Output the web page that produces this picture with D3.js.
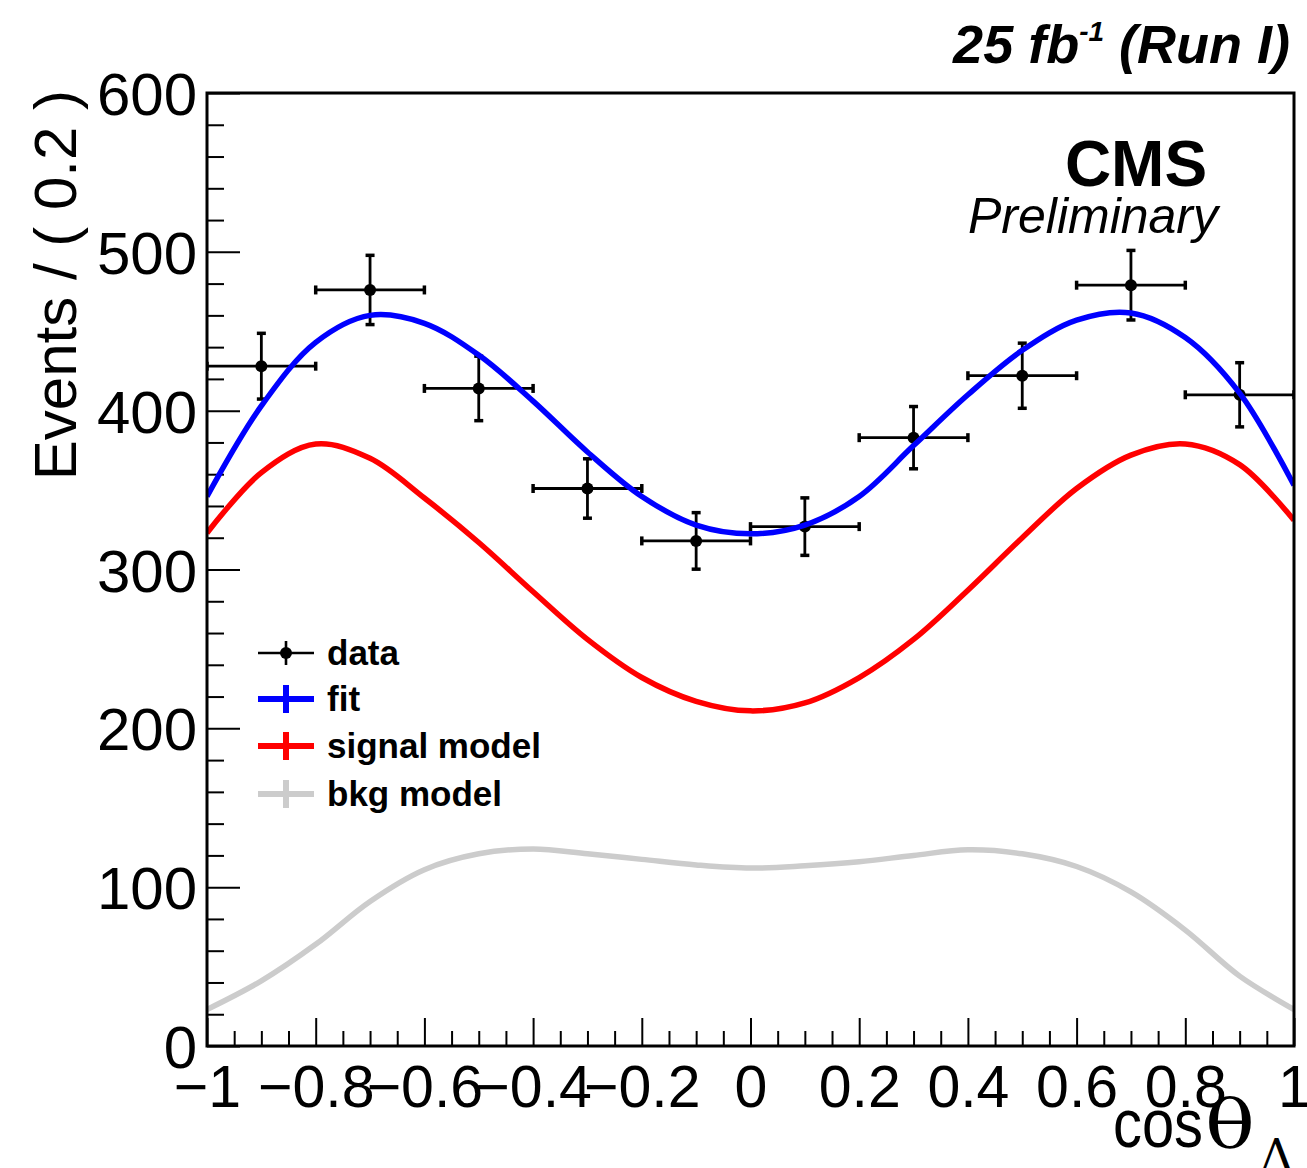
<!DOCTYPE html>
<html>
<head>
<meta charset="utf-8">
<script src="https://cdn.jsdelivr.net/npm/d3@7"></script>
<style>
  html, body { margin: 0; padding: 0; background: #ffffff; }
  svg { display: block; font-family: "Liberation Sans", Arial, Helvetica, sans-serif; }
</style>
</head>
<body>
<svg id="chart" width="1307" height="1168"></svg>
<script>
// ---------------- data ----------------
const binCenters = [-0.9, -0.7, -0.5, -0.3, -0.1, 0.1, 0.3, 0.5, 0.7, 0.9];
const binHalfWidth = 0.1;
const counts = [428, 476, 414, 351, 318, 327, 383, 422, 479, 410];
const countErrors = [20.7, 21.8, 20.3, 18.7, 17.8, 18.1, 19.6, 20.5, 21.9, 20.2];

const curveX = [-1.0, -0.9, -0.8, -0.7, -0.6, -0.5, -0.4, -0.3, -0.2, -0.1, 0.0,
                 0.1, 0.2, 0.3, 0.4, 0.5, 0.6, 0.7, 0.8, 0.9, 1.0];
const fitY = [346, 403, 443, 460, 455, 435, 406, 374, 346, 328, 322.5,
              328, 346, 378, 410, 438, 457, 461.5, 446, 411, 353];
const signalY = [323, 361, 379, 370, 345, 317, 286, 256, 232, 217, 211,
                 216, 232, 256, 287, 320, 351, 372, 379, 366, 331];
const bkgY = [23, 41, 64, 91, 111, 121, 124, 121, 117.5, 114, 112,
              113.5, 116, 120, 123.5, 121, 113, 97, 73, 44, 23];

const xMajorTicks = [-1, -0.8, -0.6, -0.4, -0.2, 0, 0.2, 0.4, 0.6, 0.8, 1];
const xTickLabels = ["\u22121", "\u22120.8", "\u22120.6", "\u22120.4", "\u22120.2", "0", "0.2", "0.4", "0.6", "0.8", "1"];
const yMajorTicks = [0, 100, 200, 300, 400, 500, 600];
const yTickLabels = ["0", "100", "200", "300", "400", "500", "600"];

const legendLabels = ["data", "fit", "signal model", "bkg model"];
const legendKinds = ["data", "line", "line", "line"];
const legendColors = ["#000000", "#0000ff", "#ff0000", "#cccccc"];

// ---------------- layout ----------------
const L = 207, R = 1294, T = 93, B = 1046;
const svg = d3.select("#chart");
const x = d3.scaleLinear().domain([-1, 1]).range([L, R]);
const y = d3.scaleLinear().domain([0, 600]).range([B, T]);

const xMinor = d3.range(0, 41).map(i => +(-1 + i * 0.05).toFixed(2)).filter(v => !xMajorTicks.some(m => Math.abs(m - v) < 1e-6));
const yMinor = d3.range(0, 31).map(i => i * 20).filter(v => v % 100 !== 0);

// X axis major
const gx = svg.append("g").attr("transform", `translate(0,${B})`)
  .call(d3.axisBottom(x).tickValues(xMajorTicks).tickSize(-28).tickPadding(19)
        .tickFormat((d, i) => xTickLabels[i]));
gx.select(".domain").remove();
gx.selectAll(".tick line").attr("stroke", "#000").attr("stroke-width", 2);
gx.selectAll(".tick text").attr("font-size", 59).attr("fill", "#000")
  .attr("font-family", "Liberation Sans, Arial, sans-serif");
// X axis minor
const gxm = svg.append("g").attr("transform", `translate(0,${B})`)
  .call(d3.axisBottom(x).tickValues(xMinor).tickSize(-15).tickFormat(""));
gxm.select(".domain").remove();
gxm.selectAll(".tick line").attr("stroke", "#000").attr("stroke-width", 2);

// Y axis major
const gy = svg.append("g").attr("transform", `translate(${L},0)`)
  .call(d3.axisLeft(y).tickValues(yMajorTicks).tickSize(-33).tickPadding(10)
        .tickFormat((d, i) => yTickLabels[i]));
gy.select(".domain").remove();
gy.selectAll(".tick line").attr("stroke", "#000").attr("stroke-width", 2);
gy.selectAll(".tick text").attr("font-size", 60).attr("fill", "#000").attr("dy", "0.36em")
  .attr("font-family", "Liberation Sans, Arial, sans-serif");
// Y axis minor
const gym = svg.append("g").attr("transform", `translate(${L},0)`)
  .call(d3.axisLeft(y).tickValues(yMinor).tickSize(-17).tickFormat(""));
gym.select(".domain").remove();
gym.selectAll(".tick line").attr("stroke", "#000").attr("stroke-width", 2);

svg.append("clipPath").attr("id", "plotclip").append("rect")
  .attr("x", L).attr("y", T).attr("width", R - L).attr("height", B - T);

// ---------------- data points ----------------
const gData = svg.append("g").attr("clip-path", "url(#plotclip)");
const pts = binCenters.map((c, i) => ({ c, v: counts[i], e: countErrors[i] }));
const cap = 4.5;
pts.forEach(p => {
  const cx = x(p.c), cy = y(p.v);
  const x0 = x(p.c - binHalfWidth), x1 = x(p.c + binHalfWidth);
  const y0 = y(p.v - p.e), y1 = y(p.v + p.e);
  gData.append("line").attr("x1", x0).attr("x2", x1).attr("y1", cy).attr("y2", cy)
    .attr("stroke", "#000").attr("stroke-width", 2.8);
  gData.append("line").attr("x1", cx).attr("x2", cx).attr("y1", y0).attr("y2", y1)
    .attr("stroke", "#000").attr("stroke-width", 2.8);
  [x0, x1].forEach(xx => gData.append("line").attr("x1", xx).attr("x2", xx)
    .attr("y1", cy - cap).attr("y2", cy + cap).attr("stroke", "#000").attr("stroke-width", 3.5));
  [y0, y1].forEach(yy => gData.append("line").attr("x1", cx - cap).attr("x2", cx + cap)
    .attr("y1", yy).attr("y2", yy).attr("stroke", "#000").attr("stroke-width", 3.5));
  gData.append("circle").attr("cx", cx).attr("cy", cy).attr("r", 6).attr("fill", "#000");
});

// ---------------- curves ----------------
const line = d3.line().x(d => x(d[0])).y(d => y(d[1])).curve(d3.curveCatmullRom.alpha(0.5));
const gCurves = svg.append("g").attr("clip-path", "url(#plotclip)");
[[fitY, "#0000ff"], [signalY, "#ff0000"], [bkgY, "#cccccc"]].forEach(([arr, col]) => {
  gCurves.append("path").datum(curveX.map((xv, i) => [xv, arr[i]]))
    .attr("d", line).attr("fill", "none").attr("stroke", col).attr("stroke-width", 5.5)
    .attr("stroke-linejoin", "round");
});

// ---------------- frame ----------------
svg.append("rect").attr("x", L).attr("y", T).attr("width", R - L).attr("height", B - T)
  .attr("fill", "none").attr("stroke", "#000").attr("stroke-width", 3);

// ---------------- legend ----------------
const legRows = [653, 699, 746, 794];
const lx0 = 258, lx1 = 314, lxc = 286;
legendLabels.forEach((lab, i) => {
  const ly = legRows[i];
  const col = legendColors[i];
  if (legendKinds[i] === "data") {
    svg.append("line").attr("x1", lx0).attr("x2", lx1).attr("y1", ly).attr("y2", ly)
      .attr("stroke", col).attr("stroke-width", 2.6);
    svg.append("line").attr("x1", lxc).attr("x2", lxc).attr("y1", ly - 12).attr("y2", ly + 12)
      .attr("stroke", col).attr("stroke-width", 2.6);
    svg.append("circle").attr("cx", lxc).attr("cy", ly).attr("r", 6).attr("fill", col);
  } else {
    svg.append("line").attr("x1", lx0).attr("x2", lx1).attr("y1", ly).attr("y2", ly)
      .attr("stroke", col).attr("stroke-width", 6);
    svg.append("line").attr("x1", lxc).attr("x2", lxc).attr("y1", ly - 14).attr("y2", ly + 14)
      .attr("stroke", col).attr("stroke-width", 6);
  }
  svg.append("text").attr("x", 327).attr("y", ly).attr("dy", "0.35em")
    .attr("font-size", 35).attr("font-weight", "bold").attr("fill", "#000").text(lab);
});

// ---------------- texts ----------------
svg.append("text").attr("transform", "translate(76,90) rotate(-90)")
  .attr("text-anchor", "end").attr("font-size", 60).attr("fill", "#000")
  .text("Events / ( 0.2 )");

// X title cosθ_Λ
svg.append("text").attr("x", 1113).attr("y", 1147).attr("font-size", 68)
  .attr("textLength", 90).attr("lengthAdjust", "spacingAndGlyphs").attr("fill", "#000").text("cos");
svg.append("text").attr("x", 1205).attr("y", 1147).attr("font-size", 68)
  .attr("font-family", "DejaVu Serif, Liberation Serif, serif").attr("font-weight", "normal")
  .attr("textLength", 50).attr("lengthAdjust", "spacingAndGlyphs")
  .attr("fill", "#000").text("\u03B8");
svg.append("text").attr("x", 1260).attr("y", 1172).attr("font-size", 46)
  .attr("font-family", "DejaVu Serif, Liberation Serif, serif")
  .attr("fill", "#000").text("\u039B");

// Lumi label
const lumi = svg.append("text").attr("x", 1290).attr("y", 63).attr("text-anchor", "end")
  .attr("font-size", 54).attr("font-weight", "bold").attr("font-style", "italic").attr("fill", "#000");
lumi.append("tspan").text("25 fb");
lumi.append("tspan").attr("font-size", 28).attr("dy", -22).text("-1");
lumi.append("tspan").attr("dy", 22).text(" (Run I)");

// CMS
svg.append("text").attr("x", 1136).attr("y", 186).attr("text-anchor", "middle")
  .attr("font-size", 64).attr("font-weight", "bold").attr("fill", "#000").text("CMS");
svg.append("text").attr("x", 1093).attr("y", 233).attr("text-anchor", "middle")
  .attr("font-size", 50).attr("font-style", "italic").attr("fill", "#000").text("Preliminary");
</script>
</body>
</html>
